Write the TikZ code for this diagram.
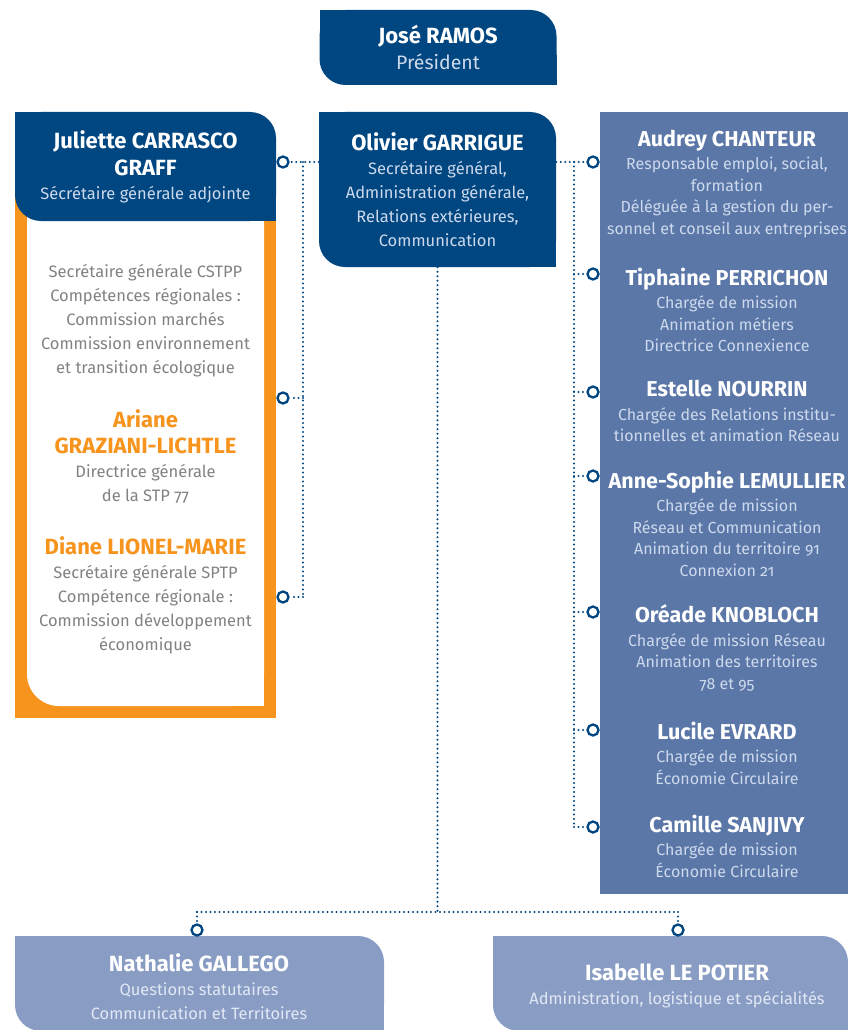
\documentclass[tikz,border=0pt]{standalone}
\usepackage{fontspec}
\setmainfont{Fira Sans}[Numbers=OldStyle]
\usetikzlibrary{positioning,calc}

\definecolor{darkblue}{RGB}{0,70,128}
\definecolor{midblue}{RGB}{91,119,168}
\definecolor{paleblue}{RGB}{137,156,196}
\definecolor{strorange}{RGB}{247,148,29}
\definecolor{greytext}{RGB}{130,130,130}
\definecolor{subwhite}{RGB}{205,217,236}
\definecolor{subpale}{RGB}{225,232,245}

\newcommand{\pname}[1]{{\color{white}\fontsize{22}{24}\selectfont\bfseries #1}}
\newcommand{\cname}[1]{{\color{white}\fontsize{21.5}{24}\selectfont\bfseries #1}}
\newcommand{\oname}[1]{{\color{strorange}\fontsize{22}{24}\selectfont\bfseries #1}}

\begin{document}
\begin{tikzpicture}[x=1pt, y=-1pt,
    box/.style={rounded corners=26pt, inner sep=0pt},
    ring/.style={circle, draw=darkblue, line width=2.3pt, fill=white, minimum size=11pt, inner sep=0pt},
    link/.style={draw=darkblue, line width=2.2pt, dash pattern=on 0pt off 4.5pt, line cap=round},
    person/.style={align=center, inner sep=0pt, font=\fontsize{16}{21.5}\selectfont},
    header/.style={align=center, inner sep=0pt, font=\fontsize{16.5}{24}\selectfont, text=subwhite}]

\useasboundingbox (0,0) rectangle (847,1030);

% president
\fill[darkblue] (319.5,10) rectangle (349.5,40);
\fill[darkblue] (526.5,55) rectangle (556.5,85);
\node[box, fill=darkblue, minimum width=237pt, minimum height=75pt, header, font=\fontsize{19.5}{26}\selectfont] (pres) at (438,47.5)
    {\pname{José RAMOS}\\ Président};

% left block, orange frame
\fill[strorange] (15,180) rectangle (276,718);
\fill[white, rounded corners=32pt] (27,190) rectangle (264,706);
\fill[white] (27,190) rectangle (264,260);
\fill[white] (234,676) rectangle (264,706);

\fill[darkblue] (15,112) rectangle (45,142);
\fill[darkblue] (246,191) rectangle (276,221);
\node[box, fill=darkblue, minimum width=261pt, minimum height=109pt, header] (jcg) at (145.5,166.5)
    {\pname{Juliette CARRASCO}\\[3pt] \pname{GRAFF}\\ Sécrétaire générale adjointe};

\node[header, text=greytext] (cstpp) at (145.5,321)
    {Secrétaire générale CSTPP\\ Compétences régionales :\\ Commission marchés\\ Commission environnement\\ et transition écologique};
\node[header, text=greytext] (ariane) at (145.5,456.5)
    {\oname{Ariane}\\[2pt] \oname{GRAZIANI-LICHTLE}\\ Directrice générale\\ de la STP 77};
\node[header, text=greytext] (diane) at (145.5,595.5)
    {\oname{Diane LIONEL-MARIE}\\ Secrétaire générale SPTP\\ Compétence régionale :\\ Commission développement\\ économique};

% secretary general
\fill[darkblue] (319,112) rectangle (349,142);
\fill[darkblue] (526,237) rectangle (556,267);
\node[box, fill=darkblue, minimum width=237pt, minimum height=155pt, header] (og) at (437.5,189.5)
    {\pname{Olivier GARRIGUE}\\ Secrétaire général,\\ Administration générale,\\ Relations extérieures,\\ Communication};

% right column
\fill[midblue] (600,112) rectangle (860,894);

\node[person, text=subwhite] (audrey) at (727,184)
    {\cname{Audrey CHANTEUR}\\[2pt] Responsable emploi, social,\\ formation\\ Déléguée à la gestion du per-\\ sonnel et conseil aux entreprises};
\node[person, text=subwhite] (tiphaine) at (727,310)
    {\cname{Tiphaine PERRICHON}\\[2pt] Chargée de mission\\ Animation métiers\\ Directrice Connexience};
\node[person, text=subwhite] (estelle) at (727,411)
    {\cname{Estelle NOURRIN}\\[2pt] Chargée des Relations institu-\\ tionnelles et animation Réseau};
\node[person, text=subwhite] (annesophie) at (727,523.5)
    {\cname{Anne-Sophie LEMULLIER}\\[2pt] Chargée de mission\\ Réseau et Communication\\ Animation du territoire 91\\ Connexion 21};
\node[person, text=subwhite] (oreade) at (727,648)
    {\cname{Oréade KNOBLOCH}\\[2pt] Chargée de mission Réseau\\ Animation des territoires\\ 78 et 95};
\node[person, text=subwhite] (lucile) at (727,753)
    {\cname{Lucile EVRARD}\\[2pt] Chargée de mission\\ Économie Circulaire};
\node[person, text=subwhite] (camille) at (727,846)
    {\cname{Camille SANJIVY}\\[2pt] Chargée de mission\\ Économie Circulaire};

% bottom boxes
\node[box, fill=paleblue, minimum width=369pt, minimum height=95pt] (ngbox) at (199.5,983.5) {};
\fill[paleblue] (ngbox.north west) rectangle ++(30,30);
\fill[paleblue] (ngbox.south east) rectangle ++(-30,-30);
\node[box, fill=paleblue, minimum width=355pt, minimum height=95pt] (ilpbox) at (670.5,983.5) {};
\fill[paleblue] (ilpbox.north west) rectangle ++(30,30);
\fill[paleblue] (ilpbox.south east) rectangle ++(-30,-30);

\node[person, text=subpale, font=\fontsize{16.4}{24}\selectfont] (nathalie) at (199,986.5)
    {\pname{Nathalie GALLEGO}\\ Questions statutaires\\ Communication et Territoires};
\node[person, text=subpale, font=\fontsize{16.4}{24}\selectfont] (isabelle) at (677,985.5)
    {\pname{Isabelle LE POTIER}\\ Administration, logistique et spécialités};

% rings
\node[ring] (rj1) at (283,162) {};
\node[ring] (rj2) at (283,398) {};
\node[ring] (rj3) at (283,597) {};
\node[ring] (ra) at (593,162) {};
\node[ring] (rt) at (593,274) {};
\node[ring] (re) at (593,392) {};
\node[ring] (rs) at (593,476) {};
\node[ring] (ro) at (593,612) {};
\node[ring] (rl) at (593,730) {};
\node[ring] (rc) at (593,827) {};
\node[ring] (rn) at (197,930) {};
\node[ring] (ri) at (678,930) {};

\coordinate (jl-a) at (303,162);
\coordinate (jl-b) at (303,597);
\coordinate (jr-a) at (574,162);
\coordinate (jr-b) at (574,827);
\coordinate (jb-l) at (197,912);
\coordinate (jb-r) at (678,912);

% dotted links
\draw[link] (og.west |- rj1) -- (rj1.east);
\draw[link] (jl-a) -- (jl-b);
\draw[link] (jl-b |- rj2) -- (rj2.east);
\draw[link] (jl-b) -- (rj3.east);
\draw[link] (og.east |- ra) -- (ra.west);
\draw[link] (jr-a) -- (jr-b);
\draw[link] (jr-b |- rt) -- (rt.west);
\draw[link] (jr-b |- re) -- (re.west);
\draw[link] (jr-b |- rs) -- (rs.west);
\draw[link] (jr-b |- ro) -- (ro.west);
\draw[link] (jr-b |- rl) -- (rl.west);
\draw[link] (jr-b) -- (rc.west);
\draw[link] (og.south) -- (og.south |- jb-l);
\draw[link] (jb-l) -- (jb-r);
\draw[link] (jb-l) -- (rn.north);
\draw[link] (jb-r) -- (ri.north);
\end{tikzpicture}
\end{document}
